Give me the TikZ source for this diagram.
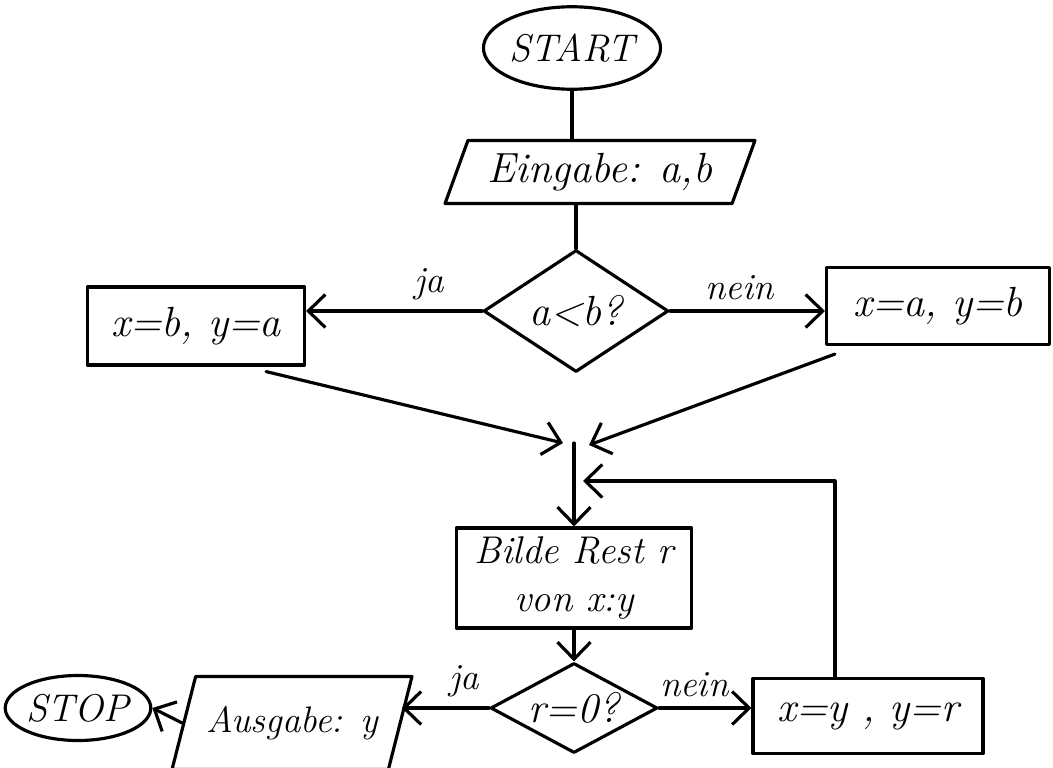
\documentclass[tikz,border=0pt]{standalone}
\usepackage{fontspec}
\usetikzlibrary{shapes.geometric,arrows.meta}

\begin{document}
\begin{tikzpicture}[x=0.02cm, y=-0.02cm,
    every node/.style={font=\itshape\fontsize{24}{29}\selectfont},
    line width=1.8pt, line cap=round, line join=round,
    arr/.style={-{Straight Barb[length=3.4mm, width=6.6mm, line width=1.8pt]}},
    term/.style={ellipse, draw, inner sep=0pt},
    io/.style={trapezium, draw, trapezium stretches body, inner sep=2pt},
    ask/.style={diamond, draw, inner sep=0pt},
    work/.style={rectangle, draw, inner sep=2pt},
    lbl/.style={font=\itshape\fontsize{21}{25}\selectfont, above=2pt}]
    \useasboundingbox (0,0) rectangle (1053,767);

    % Start and input
    \node[term, minimum width=3.3cm, minimum height=1.65cm, font=\itshape\fontsize{22}{26}\selectfont] (start) at (572,48) {START};
    \node[io, trapezium left angle=63, trapezium right angle=117, minimum width=6.2cm, minimum height=1.26cm] (ein) at (600,172) {Eingabe: a,b};

    % First question
    \node[ask, aspect=1.5, minimum width=3.7cm, minimum height=2.44cm] (ab) at (576,311) {a<b?};
    \node[work, minimum width=4.34cm, minimum height=1.56cm] (xb) at (196,326) {x=b, y=a};
    \node[work, minimum width=4.46cm, minimum height=1.54cm] (xa) at (938,306) {x=a, y=b};

    % Join point and loop
    \coordinate (mL) at (563,443);
    \coordinate (mR) at (589,445);
    \coordinate (m) at (574,443);
    \coordinate (back) at (583,481);

    \node[work, align=center, minimum width=4.7cm, minimum height=2cm, font=\itshape\fontsize{22}{27}\selectfont] (rest) at (574,578) {Bilde Rest r\\von x:y};

    % Second question
    \node[ask, aspect=1.85, minimum width=3.34cm, minimum height=1.8cm] (r0) at (574,708) {r=0?};
    \node[io, trapezium left angle=60, trapezium right angle=120, minimum width=4.8cm, minimum height=1.86cm, font=\itshape\fontsize{21}{25}\selectfont] (aus) at (292,723) {Ausgabe: y};
    \node[term, minimum width=2.56cm, minimum height=1.3cm, font=\itshape\fontsize{22}{26}\selectfont] (stop) at (78,708) {STOP};
    \node[work, minimum width=4.6cm, minimum height=1.5cm] (xy) at (868,716) {x=y , y=r};

    % Connectors
    \draw (start) -- (start |- ein.north);
    \draw (ab.north |- ein.south) -- (ab.north);
    \draw[arr] (ab.west) -- node[lbl, pos=0.3] {ja} (ab.west -| xb.east);
    \draw[arr] (ab.east) -- node[lbl, pos=0.45] {nein} (ab.east -| xa.west);
    \draw[arr] ([xshift=-0.8cm, yshift=-0.1cm]xb.south east) -- (mL);
    \draw[arr] ([xshift=0.2cm, yshift=-0.16cm]xa.south west) -- (mR);
    \draw[arr] (m) -- (rest.north);
    \draw[arr] ([xshift=-0.66cm]xy.north) |- (back);
    \draw[arr] (rest.south) -- (r0.north);
    \draw[arr] (r0.west) -- node[lbl, pos=0.28] {ja} (r0.west -| aus.east);
    \draw[arr] (aus.west) -- (stop.east);
    \draw[arr] (r0.east) -- node[lbl, pos=0.38] {nein} (r0.east -| xy.west);
\end{tikzpicture}
\end{document}
